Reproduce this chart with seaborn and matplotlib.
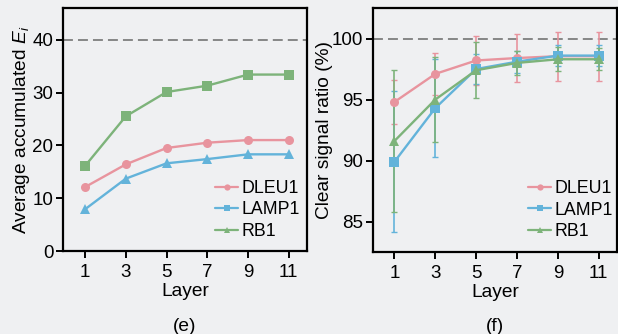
import numpy as np
import pandas as pd
import matplotlib
matplotlib.use("Agg")
import matplotlib.pyplot as plt
from matplotlib.lines import Line2D
import seaborn as sns

layers = [1, 3, 5, 7, 9, 11]
genes = ["DLEU1", "LAMP1", "RB1"]

# Panel (e): average accumulated E_i
e_dleu1 = [12.1, 16.4, 19.5, 20.5, 21.0, 21.0]
e_lamp1 = [7.9, 13.7, 16.6, 17.4, 18.3, 18.3]
e_rb1 = [16.1, 25.5, 30.1, 31.3, 33.4, 33.4]

# Panel (f): clear signal ratio (%) mean and error
f_dleu1 = [94.8, 97.1, 98.2, 98.4, 98.55, 98.55]
f_lamp1 = [89.9, 94.3, 97.5, 98.1, 98.6, 98.6]
f_rb1 = [91.6, 95.0, 97.4, 98.0, 98.3, 98.3]
f_dleu1_err = [1.8, 1.7, 2.0, 2.0, 2.0, 2.0]
f_lamp1_err = [5.8, 4.0, 1.2, 0.9, 0.85, 0.85]
f_rb1_err = [5.8, 3.5, 2.3, 1.0, 1.0, 0.9]

colors = {"DLEU1": "#E8949E", "LAMP1": "#63B3DA", "RB1": "#7DB37A"}

sns.set_theme(style="ticks")
bg = "#EFF0F2"
plt.rcParams["font.family"] = ["Liberation Sans", "DejaVu Sans"]
plt.rcParams["mathtext.fontset"] = "custom"
plt.rcParams["mathtext.rm"] = "Liberation Sans"
plt.rcParams["mathtext.it"] = "Liberation Sans:italic"
plt.rcParams["axes.edgecolor"] = "black"
plt.rcParams["axes.linewidth"] = 1.6
plt.rcParams["xtick.color"] = "black"
plt.rcParams["ytick.color"] = "black"
plt.rcParams["text.color"] = "black"
plt.rcParams["axes.labelcolor"] = "black"

fig = plt.figure(figsize=(6.18, 3.34), dpi=100, facecolor=bg)
ax1 = fig.add_axes([0.102, 0.2485, 0.395, 0.7275], facecolor=bg)
ax2 = fig.add_axes([0.6036, 0.2455, 0.395, 0.7305], facecolor=bg)

df_e = pd.DataFrame({
    "Layer": layers * 3,
    "value": e_dleu1 + e_lamp1 + e_rb1,
    "gene": ["DLEU1"] * 6 + ["LAMP1"] * 6 + ["RB1"] * 6,
})
df_f = pd.DataFrame({
    "Layer": layers * 3,
    "value": f_dleu1 + f_lamp1 + f_rb1,
    "err": f_dleu1_err + f_lamp1_err + f_rb1_err,
    "gene": ["DLEU1"] * 6 + ["LAMP1"] * 6 + ["RB1"] * 6,
})

label_fs = 13.8
tick_fs = 13.5
legend_fs = 12.8
dash_style = (0, (5.5, 2.8))
dash_color = "#7E7E7E"

# Panel (e): markers as seen in the plot (LAMP1 triangle, RB1 square)
sns.lineplot(data=df_e, x="Layer", y="value", hue="gene", style="gene",
             palette=colors, markers={"DLEU1": "o", "LAMP1": "^", "RB1": "s"},
             dashes=False, markersize=6.5, markeredgewidth=0, linewidth=1.7,
             legend=False, ax=ax1)
ax1.axhline(40, color=dash_color, linestyle=dash_style, linewidth=1.3, zorder=0)
ax1.set_xlim(-0.08, 11.9)
ax1.set_ylim(0, 46)
ax1.set_yticks([0, 10, 20, 30, 40])
ax1.set_xticks(layers)
ax1.set_ylabel("Average accumulated $E_i$", fontsize=label_fs, labelpad=0)
ax1.set_xlabel("Layer", fontsize=label_fs, labelpad=2)

# Panel (f)
for g in genes:
    sub = df_f[df_f["gene"] == g]
    ax2.errorbar(sub["Layer"], sub["value"], yerr=sub["err"], fmt="none",
                 ecolor=colors[g], elinewidth=1.2, capsize=2, capthick=1.0, zorder=2)
sns.lineplot(data=df_f, x="Layer", y="value", hue="gene", style="gene",
             palette=colors, markers={"DLEU1": "o", "LAMP1": "s", "RB1": "^"},
             dashes=False, markersize=6.5, markeredgewidth=0, linewidth=1.7,
             legend=False, ax=ax2, zorder=3)
ax2.axhline(100, color=dash_color, linestyle=dash_style, linewidth=1.3, zorder=0)
ax2.set_xlim(-0.05, 11.9)
ax2.set_ylim(82.5, 102.5)
ax2.set_yticks([85, 90, 95, 100])
ax2.set_xticks(layers)
ax2.set_ylabel("Clear signal ratio (%)", fontsize=label_fs, labelpad=-1)
ax2.set_xlabel("Layer", fontsize=label_fs, labelpad=2)

handles = [Line2D([], [], color=colors[g], marker=m, markersize=4.5,
                  markeredgewidth=0, linewidth=1.6)
           for g, m in zip(genes, ["o", "s", "^"])]
for ax, loc in [(ax1, (0.623, 0.169)), (ax2, (0.635, 0.172))]:
    ax.legend(handles, genes, loc="center left", bbox_to_anchor=loc,
              frameon=False, fontsize=legend_fs, handlelength=1.3,
              handletextpad=0.2, labelspacing=0.25, borderaxespad=0,
              borderpad=0)

for ax in (ax1, ax2):
    for s in ax.spines.values():
        s.set_visible(True)
        s.set_linewidth(1.6)
    ax.tick_params(axis="both", direction="out", length=5, width=1.4,
                   labelsize=tick_fs, pad=2)
    ax.tick_params(axis="x", pad=4)

fig.text(0.102 + 0.395 / 2, 0.022, "(e)", ha="center", va="center", fontsize=label_fs)
fig.text(0.6036 + 0.395 / 2, 0.022, "(f)", ha="center", va="center", fontsize=label_fs)

fig.savefig("out.png", dpi=100, facecolor=bg)
